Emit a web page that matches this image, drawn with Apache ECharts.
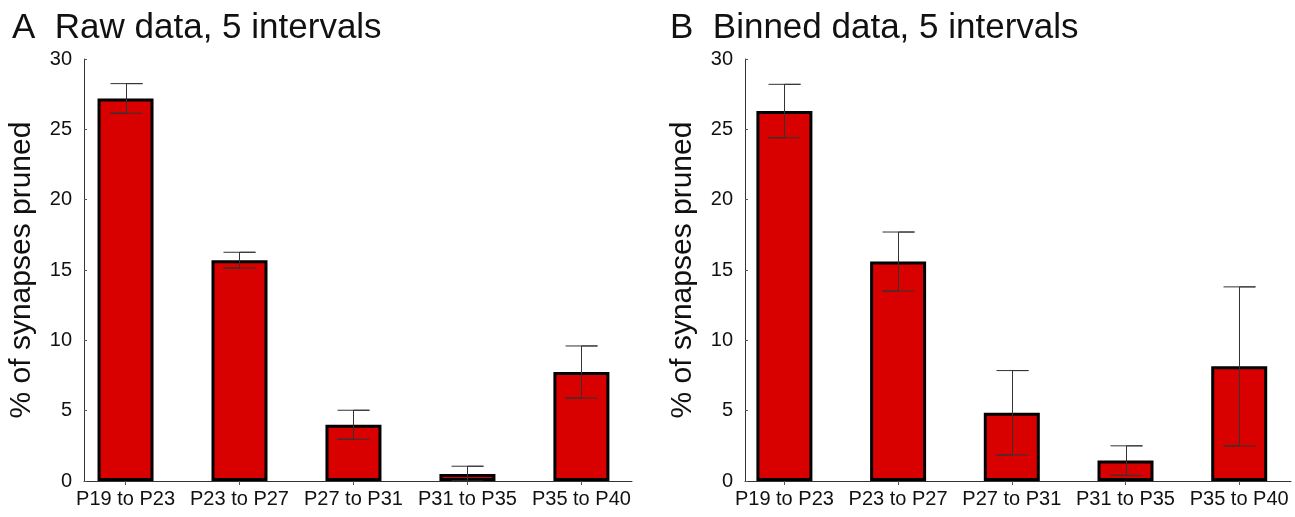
<!DOCTYPE html>
<html>
<head>
<meta charset="utf-8">
<script src="https://cdn.jsdelivr.net/npm/echarts@6/dist/echarts.min.js"></script>
<style>
  html, body { margin: 0; padding: 0; background: #fff; }
  #chart { width: 1295px; height: 517px; }
</style>
</head>
<body>
<div id="chart"></div>
<script>
var categories = ['P19 to P23', 'P23 to P27', 'P27 to P31', 'P31 to P35', 'P35 to P40'];
var yTicks = [0, 5, 10, 15, 20, 25, 30];

// panel A: raw data
var rawMeans = [27.2, 15.7, 4.0, 0.5, 7.75];
var rawErrs = [1.05, 0.56, 1.03, 0.55, 1.85];

// panel B: binned data
var binMeans = [26.3, 15.6, 4.85, 1.45, 8.15];
var binErrs = [1.9, 2.1, 3.0, 1.05, 5.65];

var font = "'Liberation Sans', Arial, sans-serif";
var myChart = echarts.init(document.getElementById('chart'));

function barData(means) {
    return means.map(function (v, i) { return [i, v]; });
}
function errData(means, errs) {
    return means.map(function (v, i) { return [i, Math.max(0, v - errs[i]), v + errs[i]]; });
}

function renderErr(params, api) {
    var lo = api.coord([api.value(0), api.value(1)]);
    var hi = api.coord([api.value(0), api.value(2)]);
    var half = 16;
    var x = Math.round(hi[0]) + 0.5;
    return {
        type: 'polyline',
        shape: {
            points: [
                [x - half, hi[1]], [x + half, hi[1]], [x, hi[1]],
                [x, lo[1]], [x - half, lo[1]], [x + half, lo[1]]
            ]
        },
        style: { stroke: '#333', lineWidth: 1, fill: null }
    };
}

function xAxisFor(gi, min, max) {
    return {
        type: 'value',
        gridIndex: gi,
        min: min,
        max: max,
        axisLine: { show: true, onZero: false, lineStyle: { color: '#333', width: 1 } },
        axisTick: { show: true, customValues: [0, 1, 2, 3, 4], length: 4, lineStyle: { color: '#555' } },
        axisLabel: {
            customValues: [0, 1, 2, 3, 4],
            formatter: function (v) { return categories[Math.round(v)]; },
            fontSize: 20, fontFamily: font, color: '#111', margin: 8
        },
        splitLine: { show: false }
    };
}

function yAxisFor(gi) {
    return {
        type: 'value',
        gridIndex: gi,
        min: yTicks[0],
        max: yTicks[yTicks.length - 1],
        interval: 5,
        name: '% of synapses pruned',
        nameLocation: 'middle',
        nameRotate: 90,
        nameGap: 47,
        nameTextStyle: { fontSize: 30, fontFamily: font, color: '#111' },
        axisLine: { show: true, onZero: false, lineStyle: { color: '#333', width: 1 } },
        axisTick: { show: true, inside: true, length: 3, lineStyle: { color: '#555' } },
        axisLabel: { fontSize: 20, fontFamily: font, color: '#111', margin: 12 },
        splitLine: { show: false }
    };
}

var barStyle = { color: '#d90000', borderColor: '#000', borderWidth: 3 };

var option = {
    animation: false,
    backgroundColor: '#fff',
    title: [
        { text: 'A  Raw data, 5 intervals', left: 7, top: 6,
          textStyle: { fontSize: 35, fontWeight: 'normal', fontFamily: font, color: '#111' } },
        { text: 'B  Binned data, 5 intervals', left: 665, top: 6,
          textStyle: { fontSize: 35, fontWeight: 'normal', fontFamily: font, color: '#111' } }
    ],
    grid: [
        { left: 84, top: 59, width: 548, height: 422 },
        { left: 745, top: 59, width: 546, height: 422 }
    ],
    xAxis: [xAxisFor(0, -0.3644, 4.444), xAxisFor(1, -0.3465, 4.4555)],
    yAxis: [yAxisFor(0), yAxisFor(1)],
    series: [
        { type: 'bar', xAxisIndex: 0, yAxisIndex: 0, barWidth: 56, data: barData(rawMeans), itemStyle: barStyle },
        { type: 'custom', xAxisIndex: 0, yAxisIndex: 0, z: 5, renderItem: renderErr,
          encode: { x: 0, y: [1, 2] }, data: errData(rawMeans, rawErrs) },
        { type: 'bar', xAxisIndex: 1, yAxisIndex: 1, barWidth: 56, data: barData(binMeans), itemStyle: barStyle },
        { type: 'custom', xAxisIndex: 1, yAxisIndex: 1, z: 5, renderItem: renderErr,
          encode: { x: 0, y: [1, 2] }, data: errData(binMeans, binErrs) }
    ]
};
myChart.setOption(option);
</script>
</body>
</html>
